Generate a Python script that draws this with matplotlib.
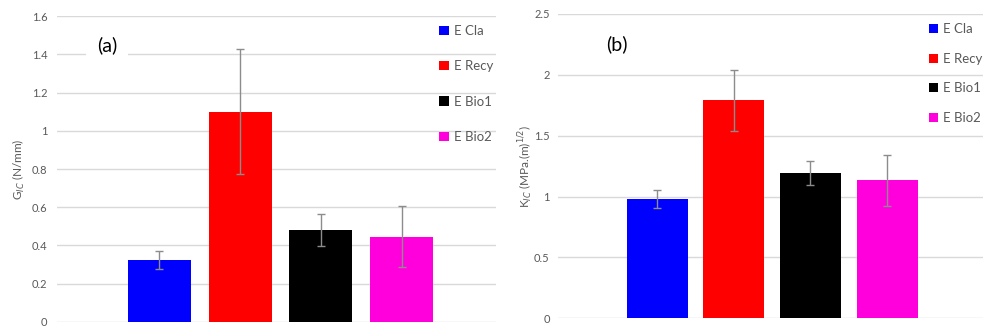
import matplotlib
matplotlib.use('Agg')
import matplotlib.pyplot as plt
from matplotlib.patches import Patch

plt.rcParams['font.family'] = ['Lato', 'DejaVu Sans']

samples = ['E Cla', 'E Recy', 'E Bio1', 'E Bio2']
colors = ['#0000ff', '#ff0000', '#000000', '#ff00dd']

gic = [0.324, 1.10, 0.481, 0.446]
gic_err = [0.046, 0.326, 0.082, 0.159]

kic = [0.98, 1.79, 1.194, 1.134]
kic_err = [0.072, 0.25, 0.10, 0.21]

grey = '#595959'

fig = plt.figure(figsize=(9.86, 3.29), dpi=100)
ax1 = fig.add_axes([0.0578, 0.0213, 0.4452, 0.930])
ax2 = fig.add_axes([0.566, 0.0325, 0.431, 0.925])


def draw_panel(ax, vals, errs, width, xlim, ylim, yticks, ylabel, tag, tagpos,
               legend_spacing, label_x, pad):
    pos = range(len(vals))
    ax.bar(pos, vals, width=width, color=colors, zorder=2)
    ax.errorbar(pos, vals, yerr=errs, fmt='none', ecolor='#8c8c8c',
                elinewidth=1, capsize=3, capthick=1, zorder=3)
    ax.set_xlim(*xlim)
    ax.set_ylim(*ylim)
    ax.set_yticks(yticks)
    ax.set_yticklabels([f'{t:g}' for t in yticks])
    ax.set_xticks([])
    ax.tick_params(axis='y', length=0, labelsize=8, labelcolor=grey, pad=pad)
    for s in ax.spines.values():
        s.set_visible(False)
    ax.grid(axis='y', color='#d9d9d9', lw=1, zorder=0)
    ax.set_axisbelow(True)
    ax.set_ylabel(ylabel, fontsize=8.5, color=grey)
    ax.yaxis.set_label_coords(label_x, 0.5)
    ax.text(tagpos[0], tagpos[1], tag, transform=ax.transAxes, fontsize=14,
            ha='center', va='center', color='black',
            bbox=dict(facecolor='white', edgecolor='none', pad=8), zorder=4)
    handles = [Patch(facecolor=c, edgecolor='none') for c in colors]
    leg = ax.legend(handles, samples, loc='upper left',
                    bbox_to_anchor=(0.85, 1.0), frameon=False, fontsize=9.5,
                    handlelength=0.7, handleheight=0.7, handletextpad=0.4,
                    labelspacing=legend_spacing, borderaxespad=0.3)
    for t in leg.get_texts():
        t.set_color(grey)


draw_panel(ax1, gic, gic_err, 0.78, (-1.27, 4.17), (0, 1.6),
           [0, 0.2, 0.4, 0.6, 0.8, 1, 1.2, 1.4, 1.6],
           r'G$_{IC}$ (N/mm)', '(a)', (0.114, 0.905), 1.76, -0.068, 7)
draw_panel(ax2, kic, kic_err, 0.795, (-1.29, 4.25), (0, 2.5),
           [0, 0.5, 1, 1.5, 2, 2.5],
           r'K$_{IC}$ (MPa.(m)$^{1/2}$)', '(b)', (0.139, 0.90), 1.33, -0.054, 6)

fig.savefig('out.png', dpi=100)
